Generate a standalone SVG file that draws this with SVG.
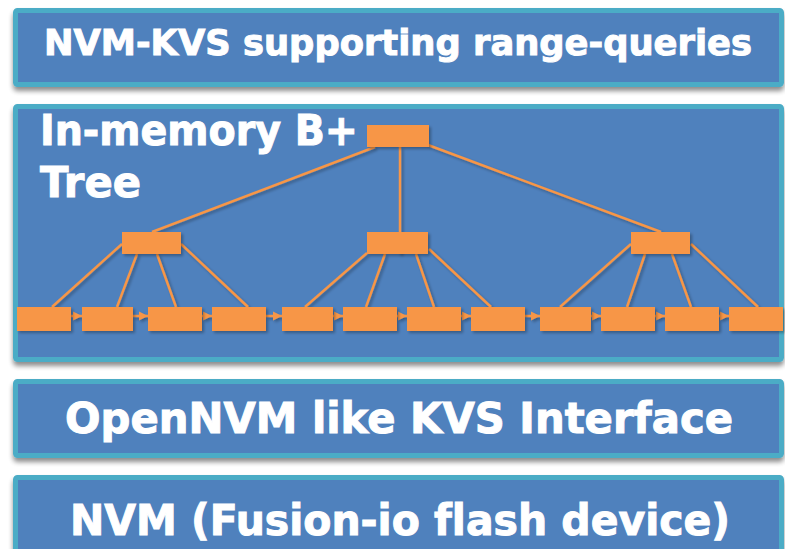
<svg xmlns="http://www.w3.org/2000/svg" width="785" height="549" viewBox="0 0 785 549">
<defs>
<style>
.box{fill:#4F81BD;stroke:#4BACC6;stroke-width:5}
.t{font-family:"DejaVu Sans","Verdana",sans-serif;font-weight:bold;fill:#FFFFFF;stroke:#FFFFFF;stroke-width:1;font-variant-ligatures:none}
.n{fill:#F79646}
.e{stroke:#F79646;stroke-width:2.5;fill:none}
.a{stroke:#F79646;stroke-width:2.5;fill:none;marker-end:url(#ah)}
</style>
<filter id="sh" x="-5%" y="-10%" width="110%" height="130%">
<feGaussianBlur in="SourceAlpha" stdDeviation="2.5"/>
<feOffset dx="0" dy="4" result="b"/>
<feComponentTransfer><feFuncA type="linear" slope="0.45"/></feComponentTransfer>
<feMerge><feMergeNode/><feMergeNode in="SourceGraphic"/></feMerge>
</filter>
<filter id="sh2" x="-10%" y="-10%" width="130%" height="140%">
<feGaussianBlur in="SourceAlpha" stdDeviation="1.5"/>
<feOffset dx="1.5" dy="2" result="b"/>
<feComponentTransfer><feFuncA type="linear" slope="0.3"/></feComponentTransfer>
<feMerge><feMergeNode/><feMergeNode in="SourceGraphic"/></feMerge>
</filter>
<marker id="ah" viewBox="0 0 10 10" refX="10" refY="5" markerWidth="9" markerHeight="10" orient="auto" markerUnits="userSpaceOnUse">
<path d="M0,0 L10,5 L0,10 z" fill="#F79646"/>
</marker>
</defs>
<rect width="785" height="549" fill="#FFFFFF"/>

<g id="layer-top">
<rect class="box" x="15.5" y="10.5" width="766" height="74" rx="2" filter="url(#sh)"/>
<text class="t" x="44" y="55" font-size="35.3" textLength="708" lengthAdjust="spacing">NVM-KVS supporting range-queries</text>
</g>

<g id="layer-btree">
<rect class="box" x="15.5" y="106.5" width="766" height="253" rx="2" filter="url(#sh)"/>
<text class="t" x="40" y="145" font-size="42" textLength="318" lengthAdjust="spacingAndGlyphs">In-memory B+</text>
<text class="t" x="40" y="197" font-size="42" textLength="101" lengthAdjust="spacingAndGlyphs">Tree</text>
</g>

<g id="layer-interface">
<rect class="box" x="15.5" y="381.5" width="766" height="74" rx="2" filter="url(#sh)"/>
<text class="t" x="65" y="433" font-size="42" textLength="668" lengthAdjust="spacingAndGlyphs">OpenNVM like KVS Interface</text>
</g>

<g id="layer-nvm">
<rect class="box" x="15.5" y="477.5" width="766" height="90" rx="2" filter="url(#sh)"/>
<text class="t" x="70" y="535" font-size="42" textLength="660" lengthAdjust="spacingAndGlyphs">NVM (Fusion-io flash device)</text>
</g>

<g id="connectors" filter="url(#sh2)">
<line class="e" x1="375" y1="147" x2="152" y2="232"/>
<line class="e" x1="400" y1="147" x2="400" y2="254"/>
<line class="e" x1="428" y1="145" x2="661" y2="232"/>

<line class="e" x1="122" y1="244" x2="52" y2="307"/>
<line class="e" x1="137" y1="254" x2="117" y2="307"/>
<line class="e" x1="157" y1="254" x2="176" y2="307"/>
<line class="e" x1="181" y1="244" x2="248" y2="307"/>

<line class="e" x1="367" y1="253" x2="305" y2="307"/>
<line class="e" x1="385" y1="254" x2="366" y2="307"/>
<line class="e" x1="416" y1="254" x2="434" y2="307"/>
<line class="e" x1="429" y1="249" x2="491" y2="307"/>

<line class="e" x1="631" y1="244" x2="560" y2="307"/>
<line class="e" x1="645" y1="254" x2="627" y2="307"/>
<line class="e" x1="672" y1="254" x2="691" y2="307"/>
<line class="e" x1="691" y1="244" x2="758" y2="307"/>

<line class="a" x1="71" y1="316" x2="82" y2="316"/>
<line class="a" x1="133" y1="316" x2="148" y2="316"/>
<line class="a" x1="202" y1="316" x2="212" y2="316"/>
<line class="a" x1="266" y1="316" x2="282" y2="316"/>
<line class="a" x1="333" y1="316" x2="343" y2="316"/>
<line class="a" x1="397" y1="316" x2="407" y2="316"/>
<line class="a" x1="461" y1="316" x2="471" y2="316"/>
<line class="a" x1="525" y1="316" x2="540" y2="316"/>
<line class="a" x1="591" y1="316" x2="601" y2="316"/>
<line class="a" x1="655" y1="316" x2="665" y2="316"/>
<line class="a" x1="719" y1="316" x2="729" y2="316"/>
</g>

<g id="root" filter="url(#sh2)"><rect class="n" x="367" y="125" width="62" height="22"/></g>
<g id="mid-left" filter="url(#sh2)"><rect class="n" x="122" y="232" width="59" height="22"/></g>
<g id="mid-center" filter="url(#sh2)"><rect class="n" x="367" y="232" width="61" height="22"/></g>
<g id="mid-right" filter="url(#sh2)"><rect class="n" x="631" y="232" width="59" height="22"/></g>

<g id="leaf1" filter="url(#sh2)"><rect class="n" x="17" y="307" width="54" height="24"/></g>
<g id="leaf2" filter="url(#sh2)"><rect class="n" x="82" y="307" width="51" height="24"/></g>
<g id="leaf3" filter="url(#sh2)"><rect class="n" x="148" y="307" width="54" height="24"/></g>
<g id="leaf4" filter="url(#sh2)"><rect class="n" x="212" y="307" width="54" height="24"/></g>
<g id="leaf5" filter="url(#sh2)"><rect class="n" x="282" y="307" width="51" height="24"/></g>
<g id="leaf6" filter="url(#sh2)"><rect class="n" x="343" y="307" width="54" height="24"/></g>
<g id="leaf7" filter="url(#sh2)"><rect class="n" x="407" y="307" width="54" height="24"/></g>
<g id="leaf8" filter="url(#sh2)"><rect class="n" x="471" y="307" width="54" height="24"/></g>
<g id="leaf9" filter="url(#sh2)"><rect class="n" x="540" y="307" width="51" height="24"/></g>
<g id="leaf10" filter="url(#sh2)"><rect class="n" x="601" y="307" width="54" height="24"/></g>
<g id="leaf11" filter="url(#sh2)"><rect class="n" x="665" y="307" width="54" height="24"/></g>
<g id="leaf12" filter="url(#sh2)"><rect class="n" x="729" y="307" width="54" height="24"/></g>
</svg>
